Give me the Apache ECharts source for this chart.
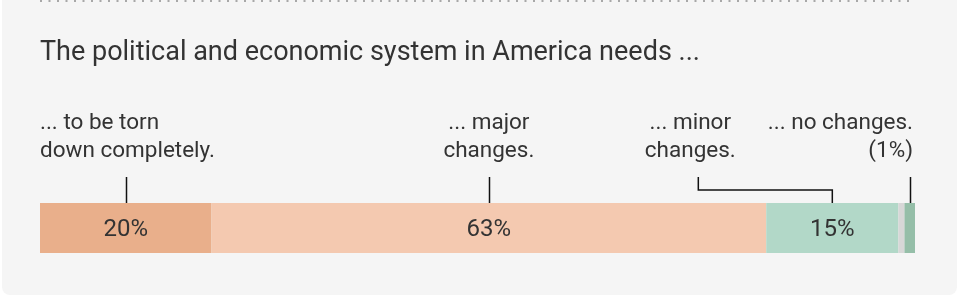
<!DOCTYPE html>
<html>
<head>
<meta charset="utf-8">
<script src="https://cdn.jsdelivr.net/npm/echarts@6/dist/echarts.min.js"></script>
<style>
html,body{margin:0;padding:0;background:#fff;}
#chart{width:960px;height:302px;}
</style>
</head>
<body>
<div id="chart"></div>
<script>
// ---- data ----
const title = 'The political and economic system in America needs ...';
const categories = ['to be torn down completely', 'major changes', 'minor changes', 'no answer', 'no changes'];
const values = [19.6, 63.4, 15.1, 0.7, 1.2];
const barLabels = ['20%', '63%', '15%', '', ''];
const annotationLines = [
  ['... to be torn', 'down completely.'],
  ['... major', 'changes.'],
  ['... minor', 'changes.'],
  null,
  ['... no changes.', '(1%)']
];
const colors = ['#e9af8b', '#f4c9b0', '#b2d8c8', '#d7d7d7', '#95bea8'];

const FONT = 'Roboto, "Noto Sans", sans-serif';
const TEXT = '#333333';

const chart = echarts.init(document.getElementById('chart'), null, {renderer: 'canvas'});

const series = values.map((v, i) => ({
  name: categories[i],
  type: 'bar',
  stack: 'total',
  barWidth: 50,
  data: [v],
  itemStyle: {color: colors[i]},
  silent: true,
  label: {
    show: barLabels[i] !== '',
    position: 'inside',
    offset: [0, 2],
    formatter: () => barLabels[i],
    color: TEXT,
    fontFamily: FONT,
    fontSize: 24
  }
}));

chart.setOption({
  backgroundColor: '#ffffff',
  animation: false,
  grid: {left: 40, right: 45, top: 203, height: 50},
  xAxis: {type: 'value', min: 0, max: 100, show: false},
  yAxis: {type: 'category', data: ['all'], show: false},
  series: series
});

// Annotations positioned from the chart's own scale
const graphics = [];
graphics.push({
  type: 'rect', z: -10, silent: true,
  shape: {x: 2, y: -20, width: 955, height: 315, r: 8},
  style: {fill: '#f5f5f5'}
});
const x0 = chart.convertToPixel({gridIndex: 0}, [0, 0])[0];
const x100 = chart.convertToPixel({gridIndex: 0}, [100, 0])[0];
graphics.push({
  type: 'line', silent: true,
  shape: {x1: x0, y1: 1, x2: x100, y2: 1},
  style: {stroke: '#a8a8a8', lineWidth: 2, lineDash: [2, 6.5]}
});
graphics.push({
  type: 'text', silent: true, x: x0, y: 53,
  style: {text: title, font: '27px ' + FONT, fill: TEXT, textVerticalAlign: 'middle'}
});

let cum = 0;
const centers = values.map(v => { const c = cum + v / 2; cum += v; return chart.convertToPixel({gridIndex: 0}, [c, 0])[0]; });
const barTop = 203;
const lineTop = 177;
const lbl = (txt, x, y, align) => graphics.push({
  type: 'text', silent: true, x: x, y: y,
  style: {text: txt, font: '22.5px ' + FONT, fill: TEXT, textAlign: align, textVerticalAlign: 'middle'}
});
annotationLines.forEach((lines, i) => {
  if (!lines) return;
  const cx = centers[i];
  let tx, align;
  if (i === 0) { tx = x0; align = 'left'; }
  else if (i === 1) { tx = cx; align = 'center'; }
  else if (i === 2) { tx = cx - 142; align = 'center'; }
  else { tx = x100 - 2; align = 'right'; }
  lbl(lines[0], tx, 123, align);
  lbl(lines[1], tx, 151, align);
  let pts;
  if (i === 2) {
    const sx = cx - 134;
    pts = [[sx, lineTop], [sx, 190], [cx, 190], [cx, barTop]];
  } else {
    pts = [[Math.round(cx) + 0.5, lineTop], [Math.round(cx) + 0.5, barTop]];
  }
  graphics.push({
    type: 'polyline', silent: true,
    shape: {points: pts},
    style: {stroke: '#111', lineWidth: 1.5, fill: null}
  });
});
chart.setOption({graphic: graphics});
</script>
</body>
</html>
